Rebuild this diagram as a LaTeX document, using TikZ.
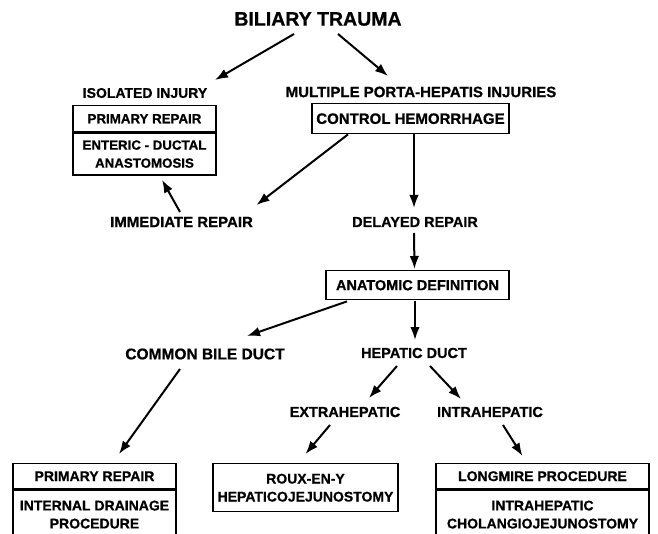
\documentclass[tikz,border=0pt]{standalone}
\usepackage{fontspec}
\setmainfont{Liberation Sans}[BoldFeatures={FakeBold=0.8}]
\usetikzlibrary{arrows.meta,calc}
\begin{document}
\begin{tikzpicture}[x=1pt,y=-1pt,
 lbl/.style={font=\fontsize{14.5}{18}\selectfont\bfseries, inner sep=0pt},
 ttl/.style={font=\fontsize{19.5}{24}\selectfont\bfseries, inner sep=0pt},
 sect/.style={draw, line width=1.4pt, font=\fontsize{14}{18}\selectfont\bfseries, align=center, inner sep=0pt, anchor=north},
 arr/.style={line width=2pt, -{Latex[length=13pt,width=9.5pt]}}]
\useasboundingbox (0,0) rectangle (658,534);
\clip (0,0) rectangle (658,534);
% labels
\node[ttl] (bt) at (318,19) {BILIARY TRAUMA};
\node[lbl, font=\fontsize{14}{18}\selectfont\bfseries] (iso) at (145,93) {ISOLATED INJURY};
\node[lbl, font=\fontsize{15}{18}\selectfont\bfseries] (mph) at (421,92) {MULTIPLE PORTA-HEPATIS INJURIES};
\node[lbl, font=\fontsize{15}{18}\selectfont\bfseries] (imm) at (181.5,222) {IMMEDIATE REPAIR};
\node[lbl] (del) at (415,222) {DELAYED REPAIR};
\node[lbl, font=\fontsize{15.5}{18}\selectfont\bfseries] (cbd) at (205,354) {COMMON BILE DUCT};
\node[lbl] (hd) at (414,353) {HEPATIC DUCT};
\node[lbl] (ext) at (345,412) {EXTRAHEPATIC};
\node[lbl] (intra) at (490,412) {INTRAHEPATIC};
% boxes
\node[sect, font=\fontsize{13.3}{18}\selectfont\bfseries, minimum width=143pt, minimum height=26pt] (pr1) at (144.5,105) {PRIMARY REPAIR};
\node[sect, font=\fontsize{13.3}{18}\selectfont\bfseries, minimum width=143pt, minimum height=42pt] (eda) at (pr1.south) {ENTERIC - DUCTAL\\ANASTOMOSIS};
\node[sect, font=\fontsize{15}{18}\selectfont\bfseries, minimum width=197pt, minimum height=30pt] (ch) at (410.5,103) {CONTROL HEMORRHAGE};
\node[sect, font=\fontsize{14.5}{18}\selectfont\bfseries, minimum width=183pt, minimum height=29pt] (ad) at (417.5,270) {ANATOMIC DEFINITION};
\node[sect, minimum width=163pt, minimum height=25pt] (pr2) at (94.5,463) {PRIMARY REPAIR};
\node[sect, minimum width=163pt, minimum height=49pt] (idp) at (pr2.south) {INTERNAL DRAINAGE\\PROCEDURE};
\node[sect, minimum width=185pt, minimum height=48pt] (rx) at (305.5,463) {ROUX-EN-Y\\HEPATICOJEJUNOSTOMY};
\node[sect, minimum width=213pt, minimum height=25pt] (lp) at (542.5,463) {LONGMIRE PROCEDURE};
\node[sect, minimum width=213pt, minimum height=49pt] (ic) at (lp.south) {INTRAHEPATIC\\CHOLANGIOJEJUNOSTOMY};
% arrows
\draw[arr] ($(bt.center)+(-24,15)$) -- ($(iso.center)+(70,-13)$);
\draw[arr] ($(bt.center)+(20,15)$) -- ($(mph.center)+(-33,-16)$);
\draw[arr] ($(ch.south)+(-62.5,0)$) -- ($(imm.center)+(75,-17)$);
\draw[arr] ($(ch.south)+(3.5,0)$) -- ($(del.center)+(-1,-14)$);
\draw[arr] ($(imm.center)+(-1.5,-10)$) -- ($(eda.south)+(17.5,4)$);
\draw[arr] ($(del.center)+(-1,11)$) -- ($(ad.north)+(-3,-1)$);
\draw[arr] ($(ad.south)+(-70.5,1)$) -- ($(cbd.center)+(42,-18)$);
\draw[arr] ($(ad.south)+(-2.5,1)$) -- ($(hd.center)+(1,-13)$);
\draw[arr] ($(hd.center)+(-17,13)$) -- ($(ext.center)+(24,-14)$);
\draw[arr] ($(hd.center)+(16,13)$) -- ($(intra.center)+(-29,-13)$);
\draw[arr] ($(cbd.center)+(-25,15)$) -- ($(pr2.north)+(24.5,-9)$);
\draw[arr] ($(ext.center)+(-15,13)$) -- ($(rx.north)+(0,-9)$);
\draw[arr] ($(intra.center)+(13,13)$) -- ($(lp.north)+(-20,-7)$);
\end{tikzpicture}
\end{document}
